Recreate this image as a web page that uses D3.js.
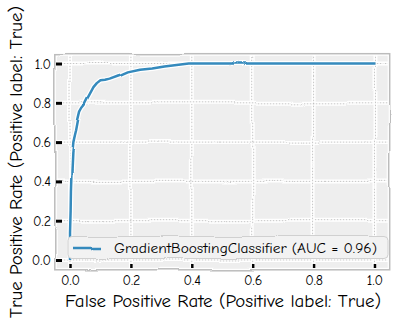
<!DOCTYPE html>
<html><head><meta charset="utf-8">
<script src="https://cdn.jsdelivr.net/npm/d3@7"></script>
<style>body{margin:0;background:#fff;} svg{display:block;}</style>
</head><body>
<svg id="c" width="396" height="324"></svg>
<script>
const fpr = [0, 0, 0.002, 0.003, 0.005, 0.008, 0.011, 0.016, 0.02, 0.026, 0.033, 0.04, 0.048, 0.056, 0.065, 0.077, 0.088, 0.1, 0.115, 0.13, 0.16, 0.19, 0.23, 0.27, 0.31, 0.35, 0.39, 0.5, 0.7, 1.0];
const tpr = [0, 0.14, 0.25, 0.35, 0.45, 0.55, 0.6, 0.635, 0.66, 0.71, 0.755, 0.775, 0.79, 0.815, 0.84, 0.875, 0.895, 0.91, 0.912, 0.918, 0.935, 0.955, 0.968, 0.975, 0.985, 0.993, 1.0, 1.0, 1.0, 1.0];
const tickVals = [0, 0.2, 0.4, 0.6, 0.8, 1.0];
const tickLabels = ["0.0", "0.2", "0.4", "0.6", "0.8", "1.0"];
const seriesLabel = "GradientBoostingClassifier (AUC = 0.96)";
const xLabel = "False Positive Rate (Positive label: True)";
const yLabel = "True Positive Rate (Positive label: True)";

const svg = d3.select("#c");
const font = "'Comic Neue','Comic Sans MS','DejaVu Sans',sans-serif";
const x = d3.scaleLinear().domain([-0.05, 1.05]).range([54.8, 389.7]);
const y = d3.scaleLinear().domain([-0.05, 1.05]).range([269.8, 53.7]);

const defs = svg.append("defs");
const f = defs.append("filter").attr("id", "wob").attr("x", "-5%").attr("y", "-5%").attr("width", "110%").attr("height", "110%");
f.append("feTurbulence").attr("type", "fractalNoise").attr("baseFrequency", 0.015).attr("numOctaves", 1).attr("seed", 3).attr("result", "n");
f.append("feDisplacementMap").attr("in", "SourceGraphic").attr("in2", "n").attr("scale", 5).attr("xChannelSelector", "R").attr("yChannelSelector", "G");

const plot = svg.append("g").attr("filter", "url(#wob)");
plot.append("rect").attr("x", x(-0.05)).attr("y", y(1.05)).attr("width", x(1.05) - x(-0.05)).attr("height", y(-0.05) - y(1.05))
  .attr("fill", "#eeeeee");

// grid
const grid = plot.append("g");
tickVals.forEach(v => {
  [["#ffffff", 4, null], ["#b8b8b8", 0.8, "1.5,1.5"]].forEach(([c, w, d]) => {
    grid.append("line").attr("x1", x(v)).attr("x2", x(v)).attr("y1", y(1.05)).attr("y2", y(-0.05))
      .attr("stroke", c).attr("stroke-width", w).attr("stroke-dasharray", d);
    grid.append("line").attr("y1", y(v)).attr("y2", y(v)).attr("x1", x(-0.05)).attr("x2", x(1.05))
      .attr("stroke", c).attr("stroke-width", w).attr("stroke-dasharray", d);
  });
});

// curve
const pts = fpr.map((d, i) => [d, tpr[i]]);
const line = d3.line().x(d => x(d[0])).y(d => y(d[1]));
plot.append("path").attr("d", line(pts)).attr("fill", "none").attr("stroke", "#fff").attr("stroke-width", 5).attr("stroke-linejoin", "round");
plot.append("path").attr("d", line(pts)).attr("fill", "none").attr("stroke", "#348ABD").attr("stroke-width", 2.5).attr("stroke-linejoin", "round");

// frame
plot.append("rect").attr("x", x(-0.05)).attr("y", y(1.05)).attr("width", x(1.05) - x(-0.05)).attr("height", y(-0.05) - y(1.05))
  .attr("fill", "none").attr("stroke", "#fff").attr("stroke-width", 4);
plot.append("rect").attr("x", x(-0.05)).attr("y", y(1.05)).attr("width", x(1.05) - x(-0.05)).attr("height", y(-0.05) - y(1.05))
  .attr("fill", "none").attr("stroke", "#bcbcbc").attr("stroke-width", 1.5);

// legend
const lg = plot.append("g");
lg.append("rect").attr("x", 68).attr("y", 236.5).attr("width", 320).attr("height", 22).attr("rx", 4)
  .attr("fill", "#f2f2f2").attr("stroke", "#d0d0d0").attr("stroke-width", 1);
lg.append("line").attr("x1", 73).attr("x2", 102).attr("y1", 248).attr("y2", 248).attr("stroke", "#348ABD").attr("stroke-width", 2.5);

svg.append("text").attr("x", 114).attr("y", 253).attr("font-family", font).attr("font-size", 14)
  .attr("textLength", 263).attr("lengthAdjust", "spacingAndGlyphs").attr("fill", "#000").text(seriesLabel);

// ticks
const xAxis = d3.axisBottom(x).tickValues(tickVals).tickFormat((d, i) => tickLabels[i]).tickSize(4).tickPadding(4);
const gx = svg.append("g").attr("transform", "translate(0,264)").call(xAxis);
gx.select(".domain").remove();
gx.selectAll(".tick line").attr("stroke", "#000").attr("stroke-width", 2.5);
gx.selectAll(".tick text").attr("font-family", font).attr("font-size", 14).attr("fill", "#000").attr("dy", "0.9em");

const yAxis = d3.axisLeft(y).tickValues(tickVals).tickFormat((d, i) => tickLabels[i]).tickSize(6).tickPadding(5);
const gy = svg.append("g").attr("transform", "translate(62,0)").call(yAxis);
gy.select(".domain").remove();
gy.selectAll(".tick line").attr("stroke", "#000").attr("stroke-width", 3);
gy.selectAll(".tick text").attr("font-family", font).attr("font-size", 14).attr("fill", "#000");

svg.append("text").attr("x", 223).attr("y", 307).attr("text-anchor", "middle").attr("font-family", font).attr("font-size", 17)
  .attr("textLength", 316).attr("lengthAdjust", "spacingAndGlyphs").text(xLabel);
svg.append("text").attr("transform", "translate(22,162) rotate(-90)").attr("text-anchor", "middle").attr("font-family", font).attr("font-size", 17)
  .attr("textLength", 312).attr("lengthAdjust", "spacingAndGlyphs").text(yLabel);
</script>
</body></html>
